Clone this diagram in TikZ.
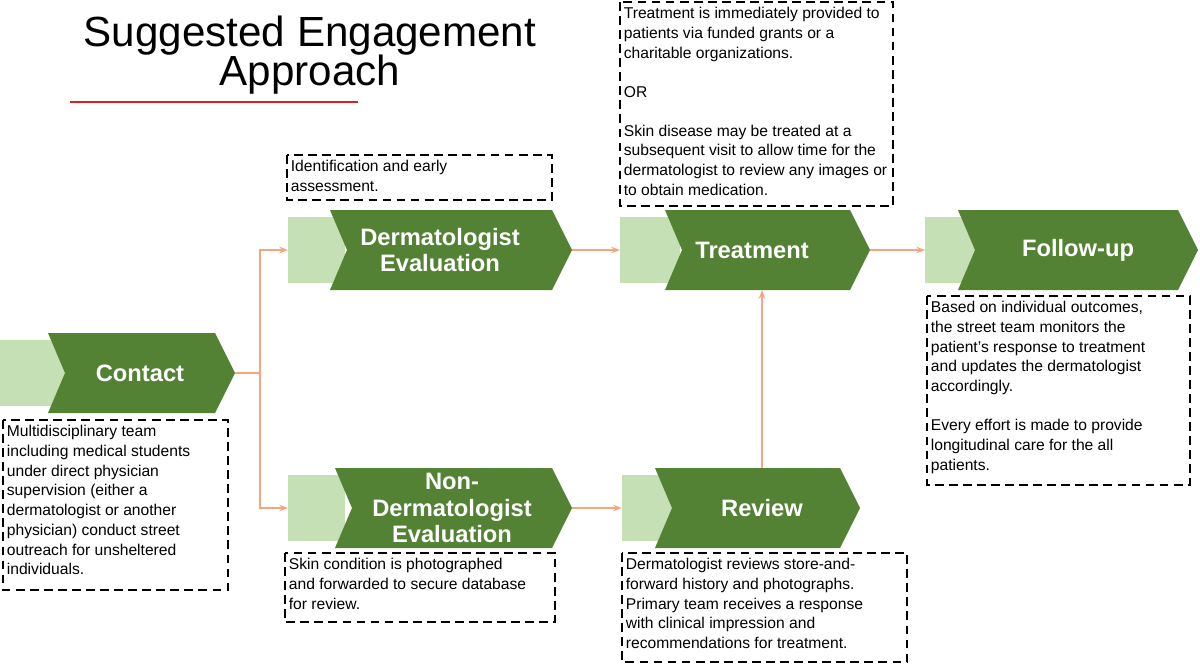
\documentclass[tikz,border=0pt]{standalone}
\usepackage{fontspec}
\setmainfont{Liberation Sans}
\usetikzlibrary{arrows.meta}
\definecolor{darkgreen}{HTML}{548235}
\definecolor{lightgreen}{HTML}{C5E0B4}
\definecolor{salmon}{HTML}{F4A582}
\definecolor{titlered}{HTML}{E02020}

% chevron: #1 name, #2 light left, #3 light right, #4 dark left, #5 dark right, #6 mid y, #7 label x, #8 label
\newcommand\chevron[8]{
  \fill[lightgreen] (#2,#6-33) rectangle (#3,#6+33);
  \fill[darkgreen] (#4,#6-40) -- (#5-20,#6-40) -- (#5,#6) -- (#5-20,#6+40)
    -- (#4,#6+40) -- (#4+17,#6) -- cycle;
  \coordinate (#1 in) at (#2,#6);
  \coordinate (#1 out) at (#5,#6);
  \node[step label] (#1) at (#7,#6) {#8};
}
% dashed note: #1 name, #2 x1, #3 y1, #4 x2, #5 y2, #6 text
\newcommand\notebox[6]{
  \draw[note box] (#2,#3) rectangle (#4,#5);
  \node[note text] (#1) at (#2,#3) {#6};
}

\begin{document}
\begin{tikzpicture}[x=0.02cm,y=-0.02cm,
    step label/.style={text=white,font=\fontsize{13.5}{15}\selectfont\bfseries,align=center},
    note box/.style={thick,dash pattern=on 5pt off 3pt},
    note text/.style={anchor=north west,inner xsep=2pt,inner ysep=3pt,align=left,
      font=\fontsize{8.9}{11.2}\selectfont},
    link/.style={salmon,thick,-{Stealth[length=5pt]}}]
  \useasboundingbox (0,0) rectangle (1200,666);

  % title
  \node[font=\fontsize{24}{22.5}\selectfont,align=center] (title) at (310,55)
    {Suggested Engagement\\Approach};
  \draw[titlered,thick] (70,102) -- (358,102);

  % steps
  \chevron{contact}{0}{65}{48}{235}{373}{140}{Contact}
  \chevron{derm}{288}{345}{330}{572}{250}{440}{Dermatologist\\Evaluation}
  \chevron{treat}{620}{680}{665}{870}{250}{752}{Treatment}
  \chevron{follow}{925}{985}{958}{1198}{250}{1078}{Follow-up}
  \chevron{nonderm}{288}{345}{335}{572}{508}{452}{Non-\\Dermatologist\\Evaluation}
  \chevron{review}{622}{680}{655}{860}{508}{762}{Review}

  % notes
  \notebox{contact note}{3}{420}{228}{590}{Multidisciplinary team\\including medical students\\under direct physician\\supervision (either a\\dermatologist or another\\physician) conduct street\\outreach for unsheltered\\individuals.}
  \notebox{derm note}{287}{155}{552}{200}{Identification and early\\assessment.}
  \notebox{treat note}{620}{2}{893}{206}{Treatment is immediately provided to\\patients via funded grants or a\\charitable organizations.\\[11pt]OR\\[11pt]Skin disease may be treated at a\\subsequent visit to allow time for the\\dermatologist to review any images or\\to obtain medication.}
  \notebox{follow note}{927}{296}{1190}{485}{Based on individual outcomes,\\the street team monitors the\\patient’s response to treatment\\and updates the dermatologist\\accordingly.\\[11pt]Every effort is made to provide\\longitudinal care for the all\\patients.}
  \notebox{nonderm note}{285}{553}{555}{622}{Skin condition is photographed\\and forwarded to secure database\\for review.}
  \notebox{review note}{622}{553}{907}{662}{Dermatologist reviews store-and-\\forward history and photographs.\\Primary team receives a response\\with clinical impression and\\recommendations for treatment.}

  % links
  \coordinate (split) at (260,373);
  \draw[salmon,thick] (contact out) -- (split);
  \draw[link] (split) |- (derm in);
  \draw[link] (split) |- (nonderm in);
  \draw[link] (derm out) -- (treat in);
  \draw[link] (nonderm out) -- (review in);
  \draw[link] (review.north |- 0,468) -- (review.north |- 0,290);
  \draw[link] (treat out) -- (follow in);
\end{tikzpicture}
\end{document}
